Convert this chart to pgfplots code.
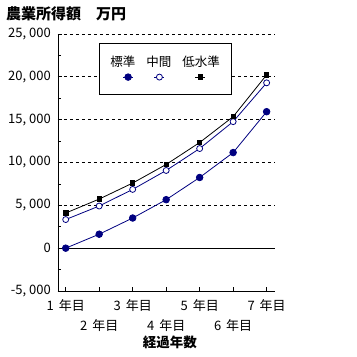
\documentclass[border=0pt]{standalone}
\usepackage{fontspec}
\setmainfont{Noto Sans CJK JP}
\usepackage{pgfplots}
\pgfplotsset{compat=1.18}
\definecolor{navy}{RGB}{0,0,128}
\newcommand{\yr}[1]{#1\hspace{5bp}年目}
\pgfplotsset{
  legA/.style={legend image code/.code={\draw[overlay,mark repeat=2,mark phase=2,##1] plot coordinates {(12.7bp,-10.7bp) (17.7bp,-10.7bp) (22.7bp,-10.7bp)};}},
  legB/.style={legend image code/.code={\draw[overlay,mark repeat=2,mark phase=2,##1] plot coordinates {(8bp,-10.7bp) (13bp,-10.7bp) (18bp,-10.7bp)};}},
  legC/.style={legend image code/.code={\draw[overlay,mark repeat=2,mark phase=2,##1] plot coordinates {(13bp,-10.7bp) (18bp,-10.7bp) (23bp,-10.7bp)};}},
}
\begin{document}
\begin{tikzpicture}
\path[use as bounding box] (-58bp,-66bp) rectangle (299bp,291bp);
\node[anchor=base west, inner sep=0pt, font=\bfseries\fontsize{15bp}{17bp}\selectfont] at (-52bp,271.5bp) {農業所得額　万円};
\begin{axis}[
  scale only axis, width=217bp, height=257bp,
  at={(0bp,0bp)}, anchor=south west,
  xmin=0.77, xmax=7.25, ymin=-5000, ymax=25000,
  scaled y ticks=false,
  axis x line*=bottom, axis y line*=left,
  axis line style={line width=0.8bp, -},
  every tick label/.append style={font=\fontsize{13bp}{15bp}\selectfont},
  xtick={1,2,3,4,5,6,7},
  xticklabels={\yr{1}, \raisebox{-20bp}{\yr{2}}, \yr{3}, \raisebox{-20bp}{\yr{4}}, \yr{5}, \raisebox{-20bp}{\yr{6}}, \yr{7}},
  xticklabel style={anchor=base, yshift=-19bp, inner sep=0pt},
  ytick={-5000,0,5000,10000,15000,20000,25000},
  yticklabels={{-5, 000},{0},{5, 000},{10, 000},{15, 000},{20, 000},{25, 000}},
  yticklabel style={anchor=east, xshift=-7bp, inner sep=0pt},
  minor y tick num=1,
  tick align=inside,
  major tick length=4bp, minor tick length=3bp,
  tick style={black, line width=0.8bp},
  ymajorgrids,
  major grid style={black, line width=0.8bp, dash pattern=on 3bp off 3bp},
  extra y ticks={0}, extra y tick labels={},
  extra y tick style={grid=major, major grid style={solid, black, line width=0.8bp}, major tick length=0pt},
  xlabel={経過年数},
  xlabel style={at={(axis description cs:0.516,0)}, anchor=base, yshift=-56bp, inner sep=0pt, font=\bfseries\fontsize{13.5bp}{15bp}\selectfont},
  legend columns=3,
  legend style={at={(0.189,0.965)}, anchor=north west, draw=black, line width=0.8bp, fill=white,
    inner xsep=11bp, inner ysep=0pt,
    cells={anchor=base west},
    nodes={inner sep=0pt, text height=23bp, text depth=28bp, font=\fontsize{12.5bp}{14bp}\selectfont},
    /tikz/every odd column/.style={column sep=0pt},
    /tikz/every even column/.style={column sep=11bp}},
]
\addplot[navy, line width=0.8bp, mark=*, mark size=3.3bp, mark options={solid, fill=navy, draw=navy}, legA]
  coordinates {(1,0) (2,1630) (3,3520) (4,5660) (5,8250) (6,11160) (7,15930)};
\addlegendentry{標準}
\addplot[navy, line width=0.8bp, mark=*, mark size=3bp, mark options={solid, fill=white, draw=navy}, legB]
  coordinates {(1,3340) (2,4920) (3,6860) (4,9070) (5,11630) (6,14770) (7,19300)};
\addlegendentry{中間}
\addplot[black, line width=0.8bp, mark=square*, mark size=2.2bp, mark options={solid, fill=black}, legC]
  coordinates {(1,4100) (2,5730) (3,7600) (4,9770) (5,12330) (6,15350) (7,20230)};
\addlegendentry{低水準}
\end{axis}
\end{tikzpicture}
\end{document}
